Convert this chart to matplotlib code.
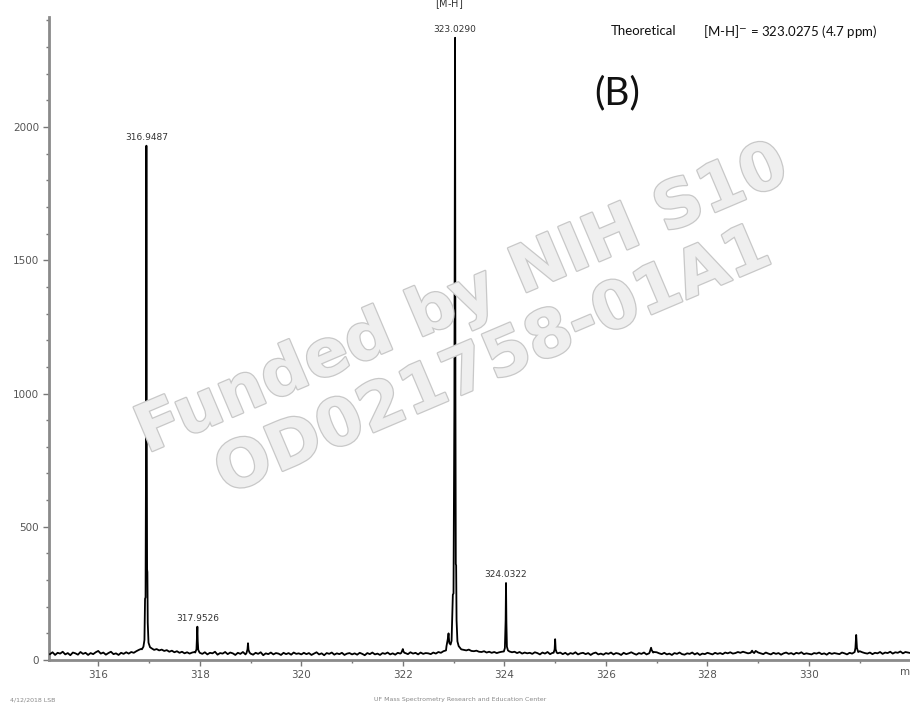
import numpy as np
import matplotlib.pyplot as plt
import matplotlib.patheffects as pe
from matplotlib.ticker import MultipleLocator

# baseline noise, one value every 0.05 m/z from 315.05 to 332.00
baseline = [
    22, 29, 19, 27, 24, 31, 21, 26, 18, 28,
    25, 20, 30, 23, 27, 19, 26, 22, 29, 34,
    24, 28, 20, 26, 31, 22, 25, 19, 27, 23,
    29, 24, 30, 27, 33, 38, 42, 45, 48, 46,
    44, 38, 41, 36, 39, 34, 37, 31, 35, 29,
    33, 27, 31, 25, 29, 24, 28, 30, 32, 27,
    23, 29, 21, 27, 25, 31, 20, 26, 24, 30,
    22, 28, 25, 19, 27, 23, 30, 21, 26, 24,
    20, 27, 23, 29, 18, 25, 22, 28, 21, 26,
    24, 19, 27, 22, 26, 20, 28, 23, 25, 21,
    27, 22, 26, 19, 24, 29, 21, 25, 18, 26,
    23, 28, 20, 25, 22, 27, 19, 24, 26, 21,
    25, 20, 27, 23, 18, 26, 22, 28, 21, 24,
    19, 26, 23, 28, 21, 25, 20, 27, 24, 22,
    26, 22, 29, 24, 27, 21, 28, 23, 26, 25,
    22, 28, 24, 30, 27, 33, 36, 44, 52, 62,
    50, 44, 40, 38, 36, 39, 34, 33, 35, 31,
    30, 33, 28, 31, 27, 30, 26, 29, 31, 33,
    38, 32, 29, 31, 26, 30, 24, 28, 25, 27,
    23, 29, 26, 21, 28, 24, 30, 22, 27, 29,
    25, 28, 22, 27, 20, 26, 23, 29, 21, 25,
    27, 22, 26, 19, 25, 28, 21, 24, 20, 26,
    23, 28, 21, 26, 24, 19, 27, 22, 25, 29,
    24, 20, 26, 23, 28, 21, 25, 27, 30, 29,
    25, 22, 27, 21, 24, 19, 26, 23, 28, 22,
    20, 25, 23, 28, 21, 26, 19, 24, 22, 27,
    24, 21, 27, 23, 26, 22, 28, 25, 29, 24,
    26, 30, 27, 31, 28, 25, 32, 29, 34, 28,
    25, 22, 28, 24, 21, 27, 23, 26, 20, 25,
    28, 23, 26, 21, 27, 24, 29, 22, 25, 23,
    21, 26, 24, 28, 22, 25, 20, 27, 23, 26,
    24, 22, 28, 25, 21, 27, 24, 29, 31, 33,
    29, 26, 24, 28, 22, 27, 25, 30, 23, 28,
    26, 31, 24, 29, 27, 32, 25, 30, 28, 26,
]
baseline_mz = np.round(315.05 + 0.05 * np.arange(len(baseline)), 3)

# peak profiles (m/z, intensity)
pk316_mz = [316.86, 316.89, 316.91, 316.922, 316.932, 316.942, 316.9487, 316.955, 316.962, 316.968, 316.975, 316.99, 317.02]
pk316_int = [40, 50, 75, 230, 235, 820, 1930, 900, 340, 330, 140, 65, 48]
pk318_mz = [317.91, 317.935, 317.945, 317.9526, 317.96, 317.97, 317.99]
pk318_int = [28, 40, 90, 125, 70, 38, 30]
pk319_mz = [318.92, 318.94, 318.95, 318.96, 318.98]
pk319_int = [26, 40, 63, 38, 28]
pk322_mz = [321.97, 321.99, 322.0, 322.01, 322.03]
pk322_int = [27, 36, 41, 33, 27]
pk323_mz = [322.86, 322.885, 322.9, 322.915, 322.94, 322.96, 322.985, 322.998, 323.015, 323.029, 323.036, 323.043, 323.05, 323.058, 323.075, 323.1]
pk323_int = [52, 78, 100, 64, 58, 72, 245, 250, 950, 2335, 1000, 360, 355, 150, 70, 52]
pk324_mz = [323.99, 324.01, 324.025, 324.0322, 324.04, 324.05, 324.07]
pk324_int = [32, 45, 150, 289, 140, 50, 36]
pk325_mz = [324.97, 324.99, 325.0, 325.01, 325.03]
pk325_int = [27, 40, 78, 40, 28]
pk327_mz = [326.86, 326.88, 326.89, 326.9, 326.93]
pk327_int = [28, 40, 46, 38, 28]
pk329_mz = [328.85, 328.87, 328.88, 328.89, 328.92]
pk329_int = [27, 32, 35, 31, 26]
pk331_mz = [330.9, 330.915, 330.93, 330.945, 330.97]
pk331_int = [30, 45, 94, 45, 30]

peaks = [
    (pk316_mz, pk316_int), (pk318_mz, pk318_int), (pk319_mz, pk319_int),
    (pk322_mz, pk322_int), (pk323_mz, pk323_int), (pk324_mz, pk324_int),
    (pk325_mz, pk325_int), (pk327_mz, pk327_int), (pk329_mz, pk329_int),
    (pk331_mz, pk331_int),
]

# merge peaks into the baseline trace
mz = list(baseline_mz)
inten = list(baseline)
for pm, pi in peaks:
    keep = [(m, v) for m, v in zip(mz, inten) if not (pm[0] <= m <= pm[-1])]
    mz = [k[0] for k in keep] + list(pm)
    inten = [k[1] for k in keep] + list(pi)
order = np.argsort(mz)
mz = np.array(mz)[order]
inten = np.array(inten)[order]

peak_labels = [(316.9487, 1930, "316.9487"), (317.9526, 125, "317.9526"),
               (323.0290, 2335, "323.0290"), (324.0322, 289, "324.0322")]

fig = plt.figure(figsize=(9.1, 7.07), dpi=100)
ax = fig.add_axes([49 / 910, 47 / 707, 861 / 910, 643 / 707])
ax.patch.set_alpha(0)

# watermark
wm = dict(family="DejaVu Sans", weight="bold", size=47, color="#efefef",
          rotation=23, ha="center", va="center", transform=fig.transFigure, zorder=0,
          path_effects=[pe.withStroke(linewidth=1.8, foreground="#c8c8c8")])
fig.text(462 / 910, 1 - 300 / 707, "Funded by NIH S10", **wm)
fig.text(493 / 910, 1 - 362 / 707, "OD021758-01A1", **wm)

ax.plot(mz, inten, color="black", lw=1.3, zorder=3)

for x, y, s in peak_labels:
    ax.annotate(s, (x, y), xytext=(0, 3), textcoords="offset points",
                ha="center", va="bottom", fontsize=6.5, color="#333333")
fig.text(452 / 910, 1 - 4 / 707, "[M-H]$^{-}$", ha="center", va="center", fontsize=7, color="#333333")

ax.set_xlim(315.03, 331.99)
ax.set_ylim(0, 2413)
ax.xaxis.set_major_locator(MultipleLocator(2))
ax.xaxis.set_minor_locator(MultipleLocator(1))
ax.yaxis.set_major_locator(MultipleLocator(500))
ax.yaxis.set_minor_locator(MultipleLocator(100))
for s in ["top", "right"]:
    ax.spines[s].set_visible(False)
for s in ["left", "bottom"]:
    ax.spines[s].set_color("#8a8a8a")
    ax.spines[s].set_linewidth(2)
ax.tick_params(which="major", length=4, width=1, color="#777777", labelsize=7.5, labelcolor="#555555")
ax.tick_params(which="minor", length=2, width=1, color="#777777")
ax.tick_params(axis="y", pad=3)

fig.text(900 / 910, 1 - 672 / 707, "m/z", ha="left", va="center", fontsize=7.5, color="#555555")

fig.text(611 / 910, 1 - 31 / 707, "Theoretical", family="Lato", fontsize=9.5, va="center", color="#111111")
fig.text(703 / 910, 1 - 31 / 707, "[M-H]$^{-}$ = 323.0275 (4.7 ppm)", family="Lato", fontsize=9.5,
         va="center", color="#111111")
fig.text(617 / 910, 1 - 93 / 707, "(B)", family="Lato", fontsize=28, ha="center", va="center", color="#111111")

fig.text(10 / 910, 1 - 700 / 707, "4/12/2018 LSB", fontsize=4.5, color="#888888", va="center")
fig.text(460 / 910, 1 - 700 / 707, "UF Mass Spectrometry Research and Education Center", fontsize=4.5,
         color="#888888", ha="center", va="center")

fig.savefig("out.png", dpi=100)
